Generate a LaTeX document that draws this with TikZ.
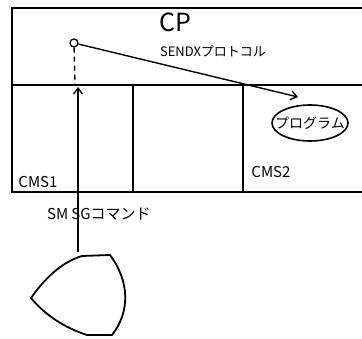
\documentclass[tikz,border=0pt]{standalone}
\usepackage{fontspec}
\setmainfont{Noto Sans CJK JP}
\usetikzlibrary{arrows.meta,shapes.geometric}
\begin{document}
\begin{tikzpicture}[x=1pt,y=-1pt,
  frame/.style={line width=2.2pt},
  link/.style={line width=1.4pt},
  tip/.style={-{Straight Barb[length=6pt,width=9pt,line width=1.4pt]}},
  lbl/.style={inner sep=0pt,font=\fontsize{15}{17}\selectfont}]
\useasboundingbox (0,0) rectangle (362,339);
% system boxes
\draw[frame] (362,8) -- (12,8) -- (12,192) -- (362,192);
\draw[frame] (12,85) -- (362,85);
\draw[frame] (133,85) -- (133,192);
\draw[frame] (243,85) -- (243,192);
\node[inner sep=0pt,font=\fontsize{25}{27}\selectfont] (cp) at (175,22) {CP};
\node[lbl] (cms1) at (38,182) {CMS1};
\node[lbl] (cms2) at (271,172) {CMS2};
% entry point and program
\node[circle,draw,line width=1.3pt,inner sep=0pt,minimum size=8pt] (pt) at (74,43) {};
\node[inner sep=0pt,font=\fontsize{14}{16}\selectfont] (prog) at (310,123) {プログラム};
\draw[line width=1.6pt] (prog.center) ellipse [x radius=38pt, y radius=18pt];
\draw[link,tip] (pt) -- (298,97) coordinate (progtop);
\node[inner sep=0pt,font=\fontsize{13}{15}\selectfont] (sendx) at (213,51) {SENDXプロトコル};
\draw[link,dash pattern=on 5pt off 4pt] (pt) -- (75,85) coordinate (entry);
% terminal
\draw[line width=1.8pt] (82,256) coordinate (term) -- (110,255)
  .. controls (130,282) and (130,312) .. (112,335) -- (87,335)
  .. controls (65,328) and (45,315) .. (31,298)
  .. controls (45,278) and (62,262) .. (82,256);
\coordinate (cmdstart) at (78,252);
\coordinate (cmdend) at (78,87);
\draw[link,tip] (cmdstart) -- (cmdend);
\node[lbl,anchor=west] (smsg) at (47,214) {SM\hspace{3pt}SGコマンド};
\end{tikzpicture}
\end{document}
